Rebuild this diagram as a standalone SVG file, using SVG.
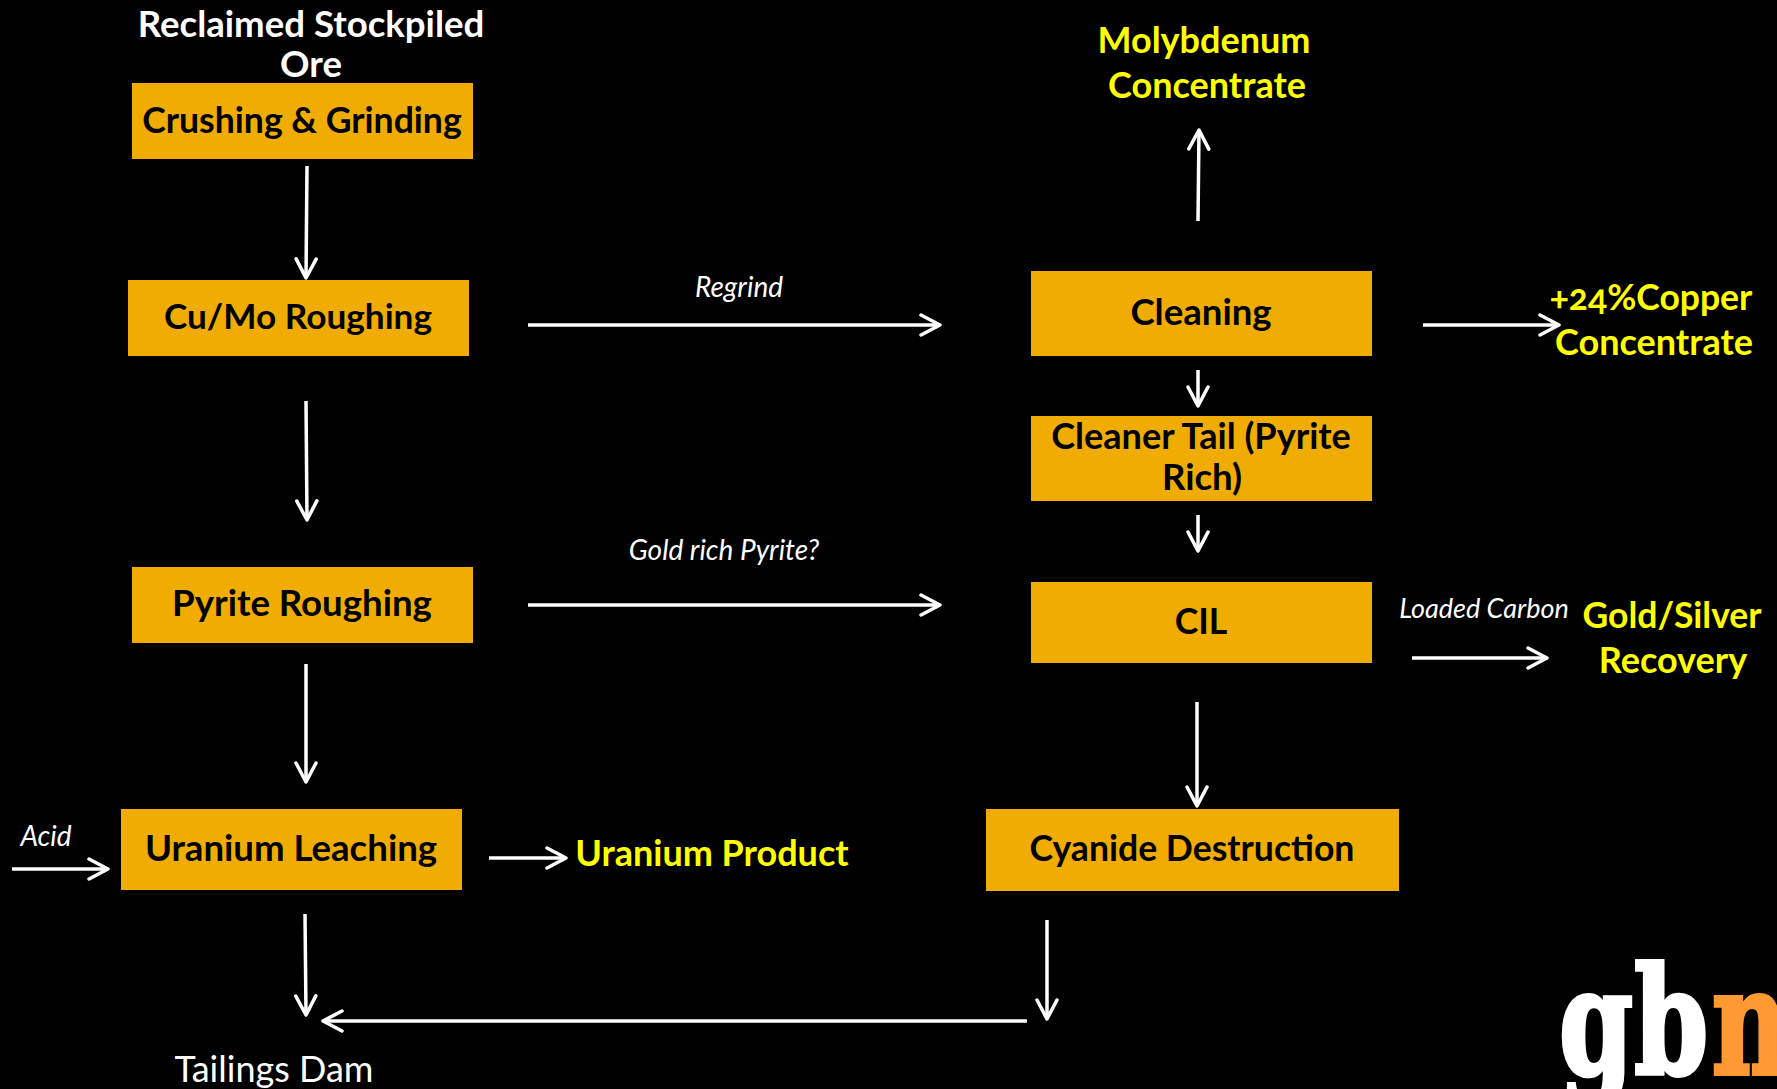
<svg xmlns="http://www.w3.org/2000/svg" width="1777" height="1089" viewBox="0 0 1777 1089">
<style>
text{font-family:"Lato","Liberation Sans",sans-serif;text-anchor:middle;font-feature-settings:"onum"}
.box{fill:#f0ac00}
.n{font-size:35.600px;font-weight:700;fill:#000}
.n2{font-size:36.600px}
.w{font-size:36px;fill:#fff}
.b{font-weight:700;font-size:36.600px}
.y{font-size:36px;font-weight:700;fill:#ff0}
.i{font-size:28px;font-style:italic;fill:#fff}
.c line{stroke:#fff;stroke-width:3.500;fill:none;marker-end:url(#a)}
.logo{font-family:"DejaVu Serif Condensed","DejaVu Serif",serif;font-weight:700;font-size:147px;text-anchor:start;stroke-width:4}
</style>
<defs><marker id="a" markerUnits="userSpaceOnUse" markerWidth="24" markerHeight="24" refX="21" refY="12" orient="auto" viewBox="0 0 24 24"><path d="M2 2L21 12L2 22" fill="none" stroke="#fff" stroke-width="3.500" stroke-linejoin="round" stroke-linecap="round"/></marker></defs>
<rect width="1777" height="1089" fill="#000"/>
<g id="connectors" class="c">
<line x1="307" y1="166" x2="306" y2="278"/>
<line x1="306" y1="401" x2="307" y2="520"/>
<line x1="306" y1="664" x2="306" y2="782"/>
<line x1="305" y1="914" x2="306" y2="1015"/>
<line x1="1047" y1="920" x2="1047" y2="1019"/>
<line x1="1027" y1="1021" x2="323" y2="1021"/>
<line x1="12" y1="869" x2="108" y2="869"/>
<line x1="489" y1="858" x2="566" y2="858"/>
<line x1="528" y1="325" x2="940" y2="325"/>
<line x1="528" y1="605" x2="940" y2="605"/>
<line x1="1198" y1="221" x2="1199" y2="130"/>
<line x1="1423" y1="325" x2="1559" y2="325"/>
<line x1="1198" y1="370" x2="1198" y2="406"/>
<line x1="1198" y1="515" x2="1198" y2="551"/>
<line x1="1197" y1="702" x2="1197" y2="806"/>
<line x1="1412" y1="658" x2="1547" y2="658"/>
</g>
<g id="n-crushing"><rect class="box" x="132" y="83" width="341" height="76"/><text class="n" x="302" y="133">Crushing &amp; Grinding</text></g>
<g id="n-cumo"><rect class="box" x="128" y="280" width="341" height="76"/><text class="n" x="298" y="329" style="font-size:35.200px">Cu/Mo Roughing</text></g>
<g id="n-pyrite"><rect class="box" x="132" y="567" width="341" height="76"/><text class="n n2" x="302" y="616">Pyrite Roughing</text></g>
<g id="n-uranium"><rect class="box" x="121" y="809" width="341" height="81"/><text class="n n2" x="291" y="861">Uranium Leaching</text></g>
<g id="n-cleaning"><rect class="box" x="1031" y="271" width="341" height="85"/><text class="n n2" x="1201" y="325">Cleaning</text></g>
<g id="n-cleanertail"><rect class="box" x="1031" y="416" width="341" height="85"/><text class="n" x="1201" y="449" style="font-size:36.100px">Cleaner Tail (Pyrite</text><text class="n n2" x="1202" y="490">Rich)</text></g>
<g id="n-cil"><rect class="box" x="1031" y="582" width="341" height="81"/><text class="n" x="1201" y="634">CIL</text></g>
<g id="n-cyanide"><rect class="box" x="986" y="809" width="413" height="82"/><text class="n" x="1192" y="861">Cyanide Destruction</text></g>
<g id="n-ore"><text class="w b" x="311" y="37">Reclaimed Stockpiled</text><text class="w b" x="311" y="77">Ore</text></g>
<g id="n-tailings"><text class="w" x="274" y="1082">Tailings Dam</text></g>
<g id="n-moly"><text class="y" x="1204" y="53">Molybdenum</text><text class="y" x="1207" y="98">Concentrate</text></g>
<g id="n-copper"><text class="y" x="1651" y="310" style="font-size:35.500px">+24%Copper</text><text class="y" x="1654" y="355">Concentrate</text></g>
<g id="n-gold"><text class="y" x="1672" y="628" style="font-size:35.500px">Gold/Silver</text><text class="y" x="1673" y="673">Recovery</text></g>
<g id="n-uproduct"><text class="y" x="712" y="866">Uranium Product</text></g>
<g id="labels"><text class="i" x="739" y="297">Regrind</text><text class="i" x="724" y="560">Gold rich Pyrite?</text><text class="i" x="1484" y="618" style="font-size:27px">Loaded Carbon</text><text class="i" x="46" y="846">Acid</text></g>
<g id="logo"><text class="logo" transform="translate(1559 1074) scale(.8 1)" fill="#fff" stroke="#fff"><tspan x="0">g</tspan><tspan x="94">b</tspan><tspan x="191" fill="#f93" stroke="#f93">n</tspan></text></g>
</svg>
